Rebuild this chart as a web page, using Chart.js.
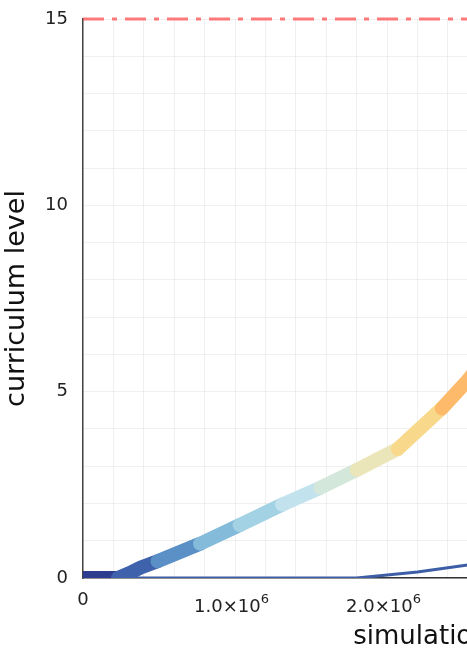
<!DOCTYPE html>
<html>
<head>
<meta charset="utf-8">
<script src="https://cdn.jsdelivr.net/npm/chart.js@4.4.0/dist/chart.umd.min.js"></script>
<style>
  html, body { margin: 0; padding: 0; background: #fff; overflow: hidden; }
  #wrap { width: 860px; height: 657px; }
</style>
</head>
<body>
<div id="wrap"><canvas id="grafico" width="860" height="657"></canvas></div>
<script>
// main curriculum run (thick, coloured by progress)
const stepsMain = [0, 0.23e6, 0.30e6, 0.38e6, 0.49e6, 0.77e6, 1.03e6, 1.31e6, 1.56e6, 1.80e6, 2.07e6, 2.36e6, 2.53e6, 2.65e6];
const levelMain = [0, 0, 0.12, 0.28, 0.45, 0.92, 1.42, 1.97, 2.42, 2.90, 3.46, 4.55, 5.30, 5.90];
// colour changes at these steps
const colourBreaks = [0.23e6, 0.49e6, 0.77e6, 1.03e6, 1.31e6, 1.56e6, 1.80e6, 2.07e6, 2.36e6];
const segmentColours = ["#2e3d8f", "#3f62ac", "#5a90c5", "#84bbda", "#a4d2e5", "#c2e3ee", "#d3e7da", "#ebe6b9", "#f8d98c", "#fdba6b"];

// second run (thin)
const stepsSecond = [0, 1.80e6, 2.20e6, 2.53e6, 2.65e6];
const levelSecond = [0, 0, 0.16, 0.35, 0.40];

// max level
const maxLevel = 15;
const xMin = 0;
const xMax = 4.96e6;
const xGridStep = 2e5;
const xLabelSteps = [0, 1e6, 2e6, 3e6, 4e6];
const yTicksShown = [0, 5, 10, 15];

const toPts = (xs, ys) => xs.map((x, i) => ({ x: x, y: ys[i] }));

const colourFor = x => {
  let k = 0;
  colourBreaks.forEach(b => { if (x >= b - 1) k++; });
  return segmentColours[k];
};

// x tick labels like 1.0×10^6 with a real superscript
const xLabels = {
  id: "xLabels",
  afterDraw(chart) {
    const c = chart.ctx;
    const sx = chart.scales.x;
    c.save();
    c.fillStyle = "#222";
    c.textBaseline = "alphabetic";
    xLabelSteps.forEach(v => {
      const px = sx.getPixelForValue(v);
      if (v === 0) {
        c.font = "18px 'DejaVu Sans'";
        c.textAlign = "center";
        c.fillText("0", px, sx.top + 27);
        return;
      }
      const base = (v / 1e6).toFixed(1) + "×10";
      const x0 = px - 41;
      c.textAlign = "left";
      c.font = "18px 'DejaVu Sans'";
      c.fillText(base, x0, sx.top + 34);
      const wb = c.measureText(base).width;
      c.font = "13px 'DejaVu Sans'";
      c.fillText("6", x0 + wb, sx.top + 25);
    });
    c.restore();
  }
};

const tickFont = { family: "DejaVu Sans", size: 18 };

const ctx = document.getElementById("grafico").getContext("2d");
new Chart(ctx, {
  type: "line",
  data: {
    datasets: [
      {
        data: toPts([xMin, xMax], [maxLevel, maxLevel]),
        borderColor: "rgba(255, 70, 70, 0.72)",
        borderWidth: 3,
        borderDash: [21, 8, 5, 8],
        pointRadius: 0,
        clip: false,
        order: 0
      },
      {
        data: toPts(stepsMain, levelMain),
        borderWidth: 14,
        borderCapStyle: "round",
        borderJoinStyle: "round",
        pointRadius: 0,
        clip: 0,
        order: 1,
        segment: {
          borderColor: c => colourFor(c.p0.parsed.x)
        }
      },
      {
        data: toPts(stepsSecond, levelSecond),
        borderColor: "#3d5ea6",
        borderWidth: 3,
        pointRadius: 0,
        clip: 0,
        order: 2
      }
    ]
  },
  options: {
    responsive: false,
    animation: false,
    devicePixelRatio: 1,
    layout: { autoPadding: false, padding: { top: 19, right: 23, left: 0, bottom: 0 } },
    plugins: { legend: { display: false }, tooltip: { enabled: false } },
    scales: {
      x: {
        type: "linear",
        min: xMin,
        max: xMax,
        afterBuildTicks: s => {
          const t = [];
          for (let v = xMin; v <= xMax; v += xGridStep) t.push({ value: Math.round(v) });
          s.ticks = t;
        },
        afterFit: s => { s.height = 79; s.paddingLeft = 0; s.paddingRight = 0; },
        grid: { color: "rgba(0,0,0,0.06)", drawTicks: false },
        border: { color: "#333", width: 1.5 },
        ticks: {
          autoSkip: false,
          maxRotation: 0,
          padding: 11,
          font: tickFont,
          callback: () => ""
        },
        title: { display: true, text: "simulation steps", color: "#111", font: { family: "DejaVu Sans", size: 26 }, padding: { top: 0, bottom: 4 } }
      },
      y: {
        min: 0,
        max: maxLevel,
        afterFit: s => { s.width = 83; s.paddingTop = 0; s.paddingBottom = 0; },
        grid: { color: "rgba(0,0,0,0.06)", drawTicks: false },
        border: { color: "#444", width: 1.5 },
        ticks: {
          stepSize: 1,
          padding: 15,
          color: "#222",
          font: tickFont,
          callback: v => (yTicksShown.includes(v) ? String(v) : "")
        },
        title: { display: true, text: "curriculum level", color: "#111", font: { family: "DejaVu Sans", size: 27 }, padding: { top: 1, bottom: 0 } }
      }
    }
  },
  plugins: [xLabels]
});
</script>
</body>
</html>
